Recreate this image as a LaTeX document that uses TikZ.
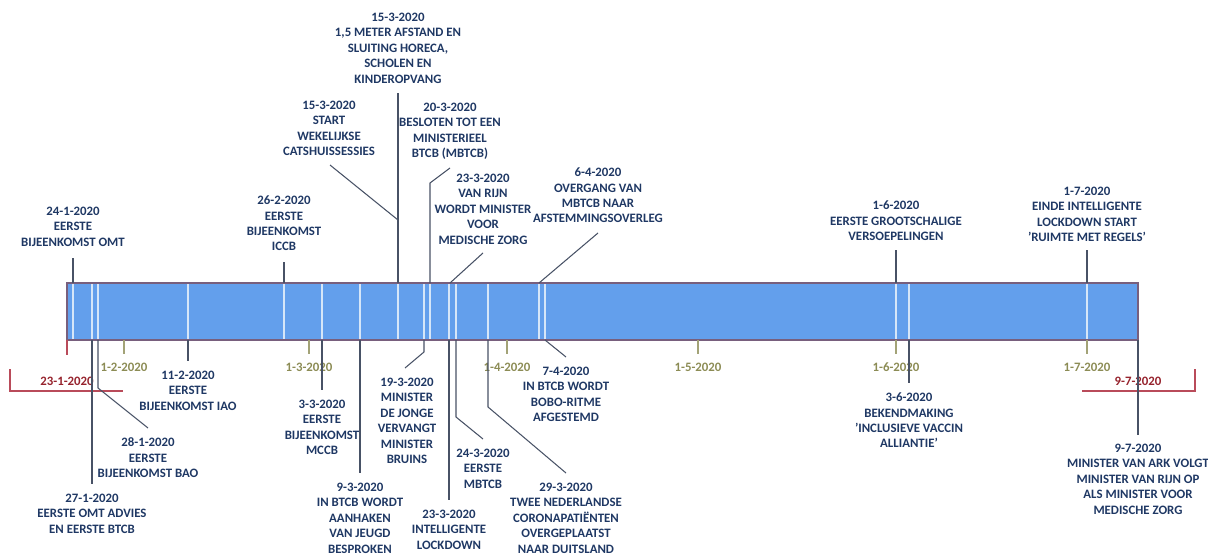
\documentclass[tikz,border=0pt]{standalone}
\usepackage{fontspec}
\setmainfont{Carlito}
\usepackage{tikz}
\definecolor{navy}{RGB}{31,56,100}
\definecolor{barblue}{RGB}{99,159,236}
\definecolor{barline}{RGB}{120,95,125}
\definecolor{innerline}{RGB}{214,230,248}
\definecolor{olive}{RGB}{140,140,85}
\definecolor{darkred}{RGB}{150,35,45}
\definecolor{redline}{RGB}{185,75,90}
\definecolor{lnkgrey}{RGB}{72,82,102}
\tikzset{
  lbl/.style={font=\fontsize{7.3}{8.8}\selectfont\bfseries, text=navy, align=center, anchor=north, inner sep=0pt},
  mon/.style={font=\fontsize{7.3}{8.8}\selectfont\bfseries, text=olive, inner sep=0pt},
  rdlbl/.style={font=\fontsize{7.3}{8.8}\selectfont\bfseries, text=darkred, inner sep=0pt},
  lnk/.style={draw=lnkgrey, line width=0.6pt},
  tck/.style={draw=olive!80, line width=0.6pt},
}

\begin{document}
\begin{tikzpicture}[x=0.02cm, y=-0.02cm]
%	\draw [help lines] (0,0) grid (1208,554);
	\useasboundingbox (0,0) rectangle (1208,554);
	% timeline bar
	\fill [barblue] (67,283) rectangle (1138,340);
	\foreach \x in {73,92,98,188,284,322,360,398,424,430,449,456,488,539,545,896,909,1087}
		\draw [innerline, line width=0.9pt] (\x,283) -- (\x,340);
	\draw [barline, line width=0.8pt] (67,283) rectangle (1138,340);
	\draw [redline, line width=0.6pt] (67,340) -- (67,355);
	% months
	\foreach \x/\d in {124/1-2-2020, 309/1-3-2020, 507/1-4-2020, 698/1-5-2020, 896/1-6-2020, 1087/1-7-2020} {
		\draw [tck] (\x,340) -- (\x,354);
		\node [mon] (m\x) at (\x,367) {\d};
	}
	% begin and end
	\node [rdlbl] (begin) at (67,381) {23-1-2020};
	\draw [redline, line width=0.7pt] (10,369) -- (10,391) -- (123,391);
	\node [rdlbl] (end) at (1138,381) {9-7-2020};
	\draw [redline, line width=0.7pt] (1195,369) -- (1195,391) -- (1082,391);

	% events above the bar
	\coordinate (a241) at (73,283);  \coordinate (e241) at (73,258);
	\node [lbl] (t241) at (73,206.5) {24-1-2020\\EERSTE\\BIJEENKOMST OMT};
	\draw [lnk] (a241) -- (e241);

	\coordinate (a262) at (284,283);  \coordinate (e262) at (284,262);
	\node [lbl] (t262) at (284,195.5) {26-2-2020\\EERSTE\\BIJEENKOMST\\ICCB};
	\draw [lnk] (a262) -- (e262);

	\coordinate (a153) at (398,283);  \coordinate (e153) at (398,93);
	\node [lbl] (t153) at (398,12.5) {15-3-2020\\1,5 METER AFSTAND EN\\SLUITING HORECA,\\SCHOLEN EN\\KINDEROPVANG};
	\draw [lnk] (a153) -- (e153);

	\coordinate (k153) at (398,220);  \coordinate (c153) at (330,165);
	\node [lbl] (s153) at (329,100.5) {15-3-2020\\START\\WEKELIJKSE\\CATSHUISSESSIES};
	\draw [lnk] (a153) -- (k153) -- (c153);

	\coordinate (a203) at (430,283);  \coordinate (k203) at (430,183);  \coordinate (e203) at (450,168);
	\node [lbl] (t203) at (450,102.5) {20-3-2020\\BESLOTEN TOT EEN\\MINISTERIEEL\\BTCB (MBTCB)};
	\draw [lnk] (a203) -- (k203) -- (e203);

	\coordinate (a233) at (450,283);  \coordinate (e233) at (483,253);
	\node [lbl] (t233) at (483,173.5) {23-3-2020\\VAN RIJN\\WORDT MINISTER\\VOOR\\MEDISCHE ZORG};
	\draw [lnk] (a233) -- (e233);

	\coordinate (a64) at (539,283);  \coordinate (e64) at (598,233);
	\node [lbl] (t64) at (598,167.5) {6-4-2020\\OVERGANG VAN\\MBTCB NAAR\\AFSTEMMINGSOVERLEG};
	\draw [lnk] (a64) -- (e64);

	\coordinate (a16) at (896,283);  \coordinate (e16) at (896,250);
	\node [lbl] (t16) at (896,200.5) {1-6-2020\\EERSTE GROOTSCHALIGE\\VERSOEPELINGEN};
	\draw [lnk] (a16) -- (e16);

	\coordinate (a17) at (1087,283);  \coordinate (e17) at (1087,250);
	\node [lbl] (t17) at (1087,186.5) {1-7-2020\\EINDE INTELLIGENTE\\LOCKDOWN START\\'RUIMTE MET REGELS'};
	\draw [lnk] (a17) -- (e17);

	% events below the bar
	\coordinate (a271) at (92,340);  \coordinate (e271) at (92,484);
	\node [lbl] (t271) at (92,493.5) {27-1-2020\\EERSTE OMT ADVIES\\EN EERSTE BTCB};
	\draw [lnk] (a271) -- (e271);

	\coordinate (a281) at (98,340);  \coordinate (k281) at (98,388);  \coordinate (e281) at (148,428);
	\node [lbl] (t281) at (148,437.5) {28-1-2020\\EERSTE\\BIJEENKOMST BAO};
	\draw [lnk] (a281) -- (k281) -- (e281);

	\coordinate (a112) at (188,340);  \coordinate (e112) at (188,361);
	\node [lbl] (t112) at (188,370.5) {11-2-2020\\EERSTE\\BIJEENKOMST IAO};
	\draw [lnk] (a112) -- (e112);

	\coordinate (a33) at (322,340);  \coordinate (e33) at (322,390);
	\node [lbl] (t33) at (322,399.5) {3-3-2020\\EERSTE\\BIJEENKOMST\\MCCB};
	\draw [lnk] (a33) -- (e33);

	\coordinate (a93) at (360,340);  \coordinate (e93) at (360,473);
	\node [lbl] (t93) at (360,482.5) {9-3-2020\\IN BTCB WORDT\\AANHAKEN\\VAN JEUGD\\BESPROKEN};
	\draw [lnk] (a93) -- (e93);

	\coordinate (a193) at (424,340);  \coordinate (k193) at (424,352);  \coordinate (e193) at (405,368);
	\node [lbl] (t193) at (407,377.5) {19-3-2020\\MINISTER\\DE JONGE\\VERVANGT\\MINISTER\\BRUINS};
	\draw [lnk] (a193) -- (k193) -- (e193);

	\coordinate (b233) at (449,340);  \coordinate (f233) at (449,500);
	\node [lbl] (u233) at (449,509.5) {23-3-2020\\INTELLIGENTE\\LOCKDOWN};
	\draw [lnk] (b233) -- (f233);

	\coordinate (a243) at (456,340);  \coordinate (k243) at (456,417);  \coordinate (e243) at (483,439);
	\node [lbl] (t243) at (483,448.5) {24-3-2020\\EERSTE\\MBTCB};
	\draw [lnk] (a243) -- (k243) -- (e243);

	\coordinate (a293) at (488,340);  \coordinate (k293) at (488,407);  \coordinate (e293) at (566,473);
	\node [lbl] (t293) at (566,482.5) {29-3-2020\\TWEE NEDERLANDSE\\CORONAPATIËNTEN\\OVERGEPLAATST\\NAAR DUITSLAND};
	\draw [lnk] (a293) -- (k293) -- (e293);

	\coordinate (a74) at (545,340);  \coordinate (e74) at (566,357);
	\node [lbl] (t74) at (566,366.5) {7-4-2020\\IN BTCB WORDT\\BOBO-RITME\\AFGESTEMD};
	\draw [lnk] (a74) -- (e74);

	\coordinate (a36) at (909,340);  \coordinate (e36) at (909,383);
	\node [lbl] (t36) at (909,392.5) {3-6-2020\\BEKENDMAKING\\'INCLUSIEVE VACCIN\\ALLIANTIE'};
	\draw [lnk] (a36) -- (e36);

	\coordinate (a97) at (1138,340);  \coordinate (e97) at (1138,435);
	\node [lbl] (t97) at (1138,443.5) {9-7-2020\\MINISTER VAN ARK VOLGT\\MINISTER VAN RIJN OP\\ALS MINISTER VOOR\\MEDISCHE ZORG};
	\draw [lnk] (a97) -- (e97);
\end{tikzpicture}
\end{document}
